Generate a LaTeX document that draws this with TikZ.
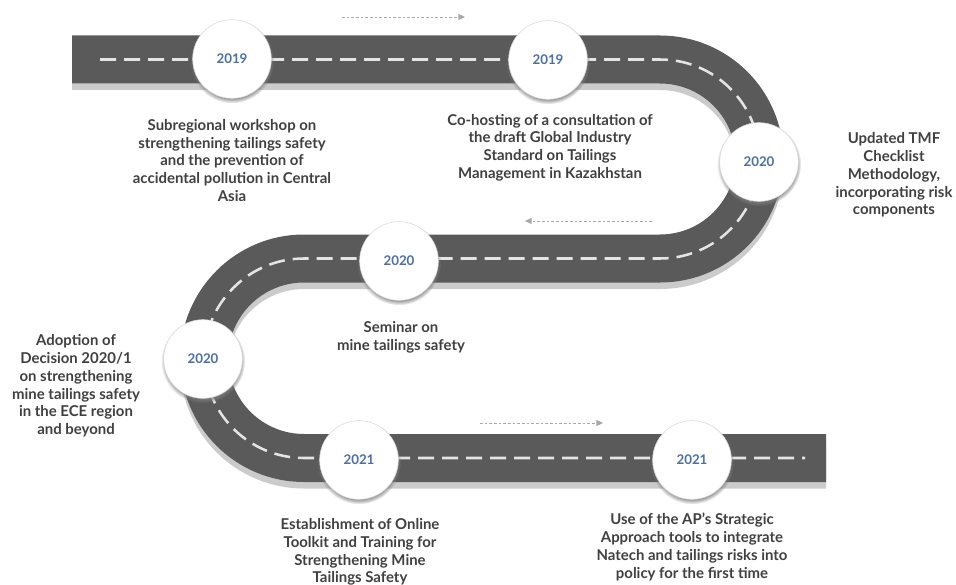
\documentclass[tikz,border=0pt]{standalone}
\usepackage{fontspec}
\setmainfont{Lato}
\usetikzlibrary{arrows.meta,shadows}
\definecolor{road}{HTML}{5A5A5A}
\definecolor{roadshadow}{HTML}{CBCBCB}
\definecolor{lane}{HTML}{E4E4E4}
\definecolor{yearblue}{HTML}{4A70A6}
\definecolor{txt}{HTML}{404040}
\definecolor{arrowgrey}{HTML}{A8A8A8}
\begin{document}
\begin{tikzpicture}[x=0.75pt,y=-0.75pt,
  roadbody/.style={line width=36pt, draw=road},
  roadshade/.style={line width=36pt, draw=roadshadow},
  lanemark/.style={line width=1.9pt, draw=lane, dash pattern=on 12pt off 6pt},
  yearc/.style={circle, fill=white, draw=black!15, line width=0.4pt, minimum size=59pt, inner sep=0pt,
    text=yearblue, font=\bfseries\fontsize{10}{12}\selectfont,
    circular drop shadow={shadow xshift=0pt, shadow yshift=-1.5pt, shadow scale=1.07}},
  desc/.style={align=center, text=txt, font=\bfseries\fontsize{11.2}{13.3}\selectfont, inner sep=0pt},
  flowarrow/.style={draw=arrowgrey, line width=0.7pt, dash pattern=on 2pt off 1.5pt,
    -{Triangle[length=5pt,width=4.5pt]}}
]
\useasboundingbox (0,0) rectangle (956,585);
\fill[white] (0,0) rectangle (956,585);
% road shadow
\draw[roadshade] (72,66) -- (660,66) arc[start angle=-90,end angle=90,radius=99.5] -- (304,265) arc[start angle=-90,end angle=-270,radius=99.75] -- (826,464.5);
% road
\draw[roadbody] (72,59.5) -- (660,59.5) arc[start angle=-90,end angle=90,radius=99.5] -- (304,258.5) arc[start angle=-90,end angle=-270,radius=99.75] -- (826,458);
% lane markings
\draw[lanemark] (100,59.5) -- (660,59.5) arc[start angle=-90,end angle=90,radius=99.5] -- (304,258.5) arc[start angle=-90,end angle=-270,radius=99.75] -- (805,458);
% direction arrows
\coordinate (a1s) at (342,17); \coordinate (a1e) at (465,17);
\coordinate (a2s) at (652,221); \coordinate (a2e) at (525,221);
\coordinate (a3s) at (480,423); \coordinate (a3e) at (603,423);
\draw[flowarrow] (a1s) -- (a1e);
\draw[flowarrow] (a2s) -- (a2e);
\draw[flowarrow] (a3s) -- (a3e);
% milestones
\node[yearc] (c1) at (232,59) {2019};
\node[yearc] (c2) at (548,60) {2019};
\node[yearc] (c3) at (759,162) {2020};
\node[yearc] (c4) at (399,261) {2020};
\node[yearc] (c5) at (203,359) {2020};
\node[yearc] (c6) at (359,460) {2021};
\node[yearc] (c7) at (692,460) {2021};
% descriptions
\node[desc] (t1) at (232,160.5) {Subregional workshop on\\strengthening tailings safety\\and the prevention of\\accidental pollution in Central\\Asia};
\node[desc] (t2) at (550,147.5) {Co-hosting of a consultation of\\the draft Global Industry\\Standard on Tailings\\Management in Kazakhstan};
\node[desc] (t3) at (894,175) {Updated TMF\\Checklist\\Methodology,\\incorporating risk\\components};
\node[desc] (t4) at (401,337.5) {Seminar on\\mine tailings safety};
\node[desc] (t5) at (76,386) {Adoption of\\Decision 2020/1\\on strengthening\\mine tailings safety\\in the ECE region\\and beyond};
\node[desc] (t6) at (360,552) {Establishment of Online\\Toolkit and Training for\\Strengthening Mine\\Tailings Safety};
\node[desc] (t7) at (692,547) {Use of the AP's Strategic\\Approach tools to integrate\\Natech and tailings risks into\\policy for the first time};
\end{tikzpicture}
\end{document}
